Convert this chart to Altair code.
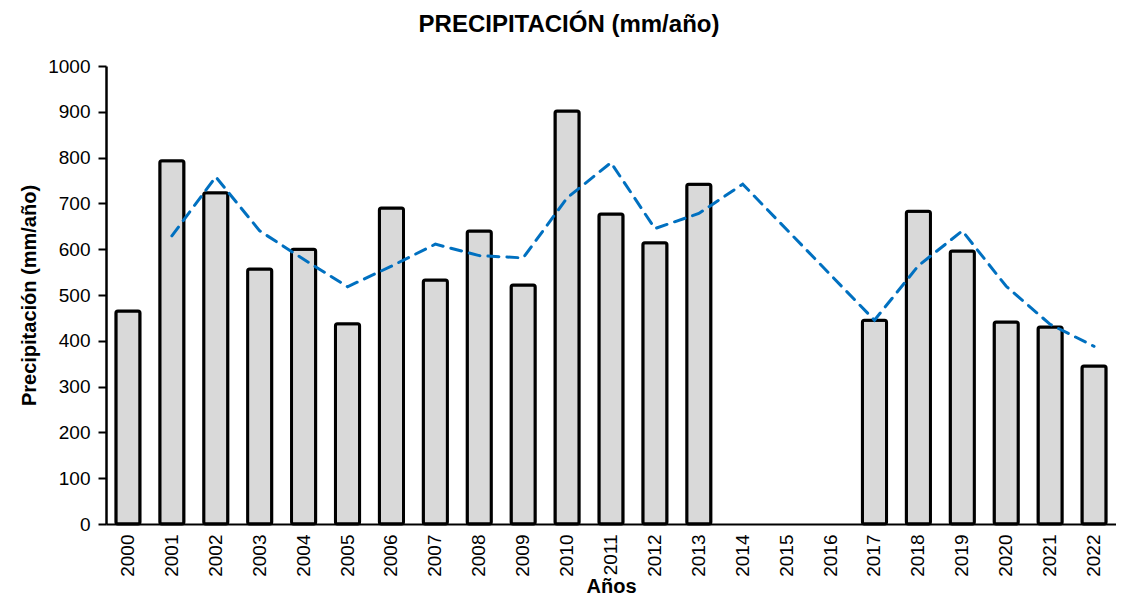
import altair as alt
import pandas as pd

years = [str(y) for y in range(2000, 2023)]
precip = [465, 793, 723, 557, 600, 437, 690, 533, 640, 522, 902, 677, 614, 742,
          None, None, None, 445, 683, 596, 441, 430, 345]
moving_avg = [None, 629, 758, 640, 578, 518, 563, 611, 586, 581, 712, 789, 645, 678,
              742, None, None, 445, 564, 640, 519, 436, 388]

bars_df = pd.DataFrame({"year": years, "value": precip}).dropna()
line_df = pd.DataFrame({"year": years, "value": moving_avg}).dropna()

FONT = "Liberation Sans"

x_enc = alt.X(
    "year:N",
    scale=alt.Scale(domain=years, paddingInner=0.45, paddingOuter=0.225),
    axis=alt.Axis(
        title="Años",
        labelAngle=270,
        ticks=False,
        labelPadding=10,
        titlePadding=0,
        domainColor="black",
        domainWidth=2,
        labelFontSize=19,
        labelColor="black",
        titleFontSize=20,
        titleFontWeight="bold",
        titleColor="black",
        labelFont=FONT,
        titleFont=FONT,
    ),
)

y_scale = alt.Scale(domain=[0, 1000], nice=False)
y_axis = alt.Axis(
    title="Precipitación (mm/año)",
    values=list(range(0, 1001, 100)),
    format="d",
    grid=False,
    domainColor="black",
    domainWidth=2.5,
    tickColor="black",
    tickWidth=2,
    tickSize=8,
    labelPadding=8,
    labelFontSize=19,
    labelColor="black",
    titleFontSize=20,
    titleFontWeight="bold",
    titleColor="black",
    titlePadding=8,
    labelFont=FONT,
    titleFont=FONT,
)

bars = alt.Chart(bars_df).mark_bar(
    fill="#d9d9d9", stroke="black", strokeWidth=3, cornerRadius=2
).encode(
    x=x_enc,
    y=alt.Y("value:Q", scale=y_scale, axis=y_axis),
)

line = alt.Chart(line_df).mark_line(
    color="#0070c0", strokeWidth=3, strokeDash=[11, 8], strokeCap="round"
).encode(
    x=alt.X("year:N", scale=alt.Scale(domain=years)),
    y=alt.Y("value:Q", scale=y_scale),
)

chart = alt.layer(bars, line).properties(
    width=1010,
    height=458,
    autosize=alt.AutoSizeParams(type="none"),
    padding={"left": 98, "top": 58, "right": 0, "bottom": 77},
    title=alt.TitleParams(
        "PRECIPITACIÓN (mm/año)",
        font=FONT,
        fontSize=24,
        fontWeight="bold",
        color="black",
        offset=20,
        dx=-42,
    ),
).configure_view(stroke=None)

chart.save("out.html", embed_options={"renderer": "svg", "actions": False})
